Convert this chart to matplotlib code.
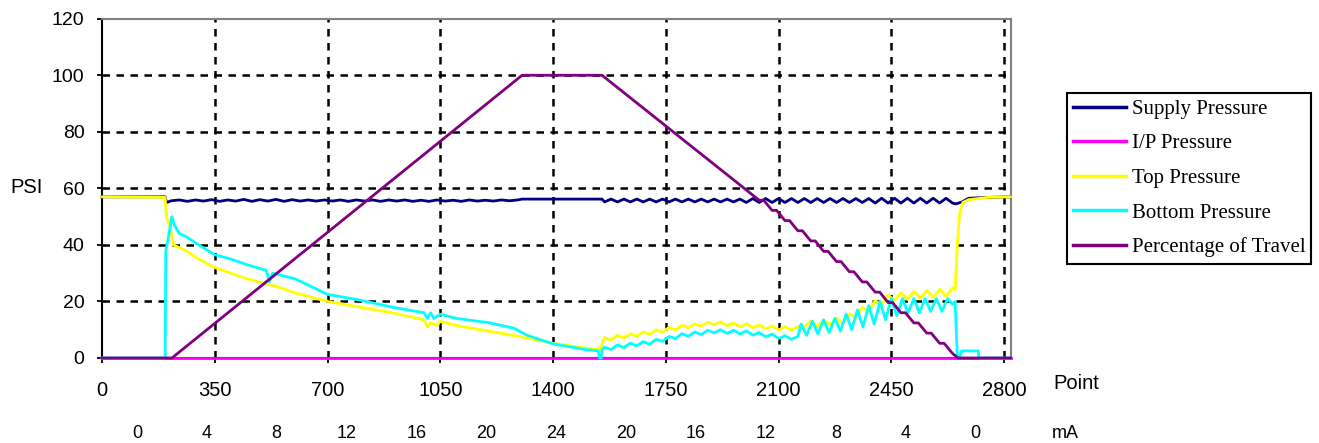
import numpy as np
import matplotlib
matplotlib.use('Agg')
import matplotlib.pyplot as plt
from matplotlib.font_manager import FontProperties

plt.rcParams['font.family'] = 'Liberation Sans'
plt.rcParams['font.size'] = 14

# ---- data ----
point_ticks = [0, 350, 700, 1050, 1400, 1750, 2100, 2450, 2800]
psi_ticks = [0, 20, 40, 60, 80, 100, 120]
ma_labels = ['0', '4', '8', '12', '16', '20', '24', '20', '16', '12', '8', '4', '0']

supply_x = [0, 196, 200, 215, 240, 265, 290, 315, 340, 365, 390, 415, 440, 465, 490,
            515, 540, 565, 590, 615, 640, 665, 690, 715, 740, 765, 790, 815, 840, 865,
            890, 915, 940, 965, 990, 1015, 1040, 1065, 1090, 1115, 1140, 1165, 1190,
            1215, 1240, 1265, 1290, 1304, 1552,
            1560, 1580, 1600, 1620, 1640, 1660, 1680, 1700, 1720, 1740, 1760, 1780,
            1800, 1820, 1840, 1860, 1880, 1900, 1920, 1940, 1960, 1980, 2000, 2020,
            2040, 2060, 2080, 2100, 2120, 2140, 2160, 2180, 2200, 2220, 2240, 2260,
            2280, 2300, 2320, 2340, 2360, 2380, 2400, 2420, 2440, 2460, 2480, 2500,
            2520, 2540, 2560, 2580, 2600, 2620, 2640, 2650, 2670, 2690, 2750, 2820]
supply_y = [57, 57, 55.0, 55.6, 55.9, 55.4, 55.9, 55.5, 56.0, 55.4, 55.9, 55.5, 56.1, 55.4,
            56.0, 55.5, 56.1, 55.4, 56.0, 55.5, 55.9, 55.5, 55.9, 55.5, 55.9, 55.4, 55.9,
            55.5, 55.9, 55.4, 55.9, 55.5, 55.9, 55.4, 55.8, 55.4, 55.9, 55.5, 55.8, 55.4,
            55.9, 55.5, 55.8, 55.5, 55.9, 55.6, 55.9, 56.2, 56.2,
            55.2, 56.2, 55.2, 56.2, 55.2, 56.2, 55.2, 56.2, 55.2, 56.2, 55.2, 56.2,
            55.2, 56.2, 55.2, 56.2, 55.2, 56.2, 55.2, 56.2, 55.2, 56.2, 55.0, 56.4,
            55.0, 56.4, 55.0, 56.4, 55.0, 56.4, 55.0, 56.4, 55.0, 56.4, 55.0, 56.4,
            55.0, 56.4, 55.0, 56.4, 55.0, 56.4, 54.8, 56.5, 54.8, 56.5, 54.8, 56.5,
            54.8, 56.5, 54.8, 56.5, 54.8, 56.5, 54.8, 54.5, 55.2, 56.5, 56.8, 57]

ip_x = [0, 2820]
ip_y = [0, 0]

top_x = [0, 196, 200, 210, 222, 260, 300, 350, 400, 450, 500, 550, 600, 700, 800, 900,
         1000, 1010, 1020, 1040, 1050, 1100, 1200, 1300, 1400, 1500, 1548, 1552,
         1560, 1580, 1600, 1620, 1640, 1660, 1680, 1700, 1720, 1740, 1760, 1780,
         1800, 1820, 1840, 1860, 1880, 1900, 1920, 1940, 1960, 1980, 2000, 2020,
         2040, 2060, 2080, 2100, 2120, 2140, 2160, 2180, 2200, 2220, 2240, 2260,
         2280, 2300, 2320, 2340, 2360, 2380, 2400, 2420, 2440, 2460, 2480, 2500,
         2520, 2540, 2560, 2580, 2600, 2620, 2640, 2648, 2655, 2662, 2672, 2690,
         2750, 2820]
top_y = [57, 56.8, 50, 47, 40, 38, 35, 32, 30, 28, 26.5, 25, 23, 20, 18, 16,
         13.5, 11, 12.5, 11.5, 13, 11.5, 9.5, 7.5, 5.2, 3.5, 3, 5,
         7.2, 6.4, 8.0, 7.1, 8.6, 7.7, 9.2, 8.4, 10.0, 9.2, 10.8, 10.0,
         11.6, 10.7, 12.1, 11.2, 12.7, 11.7, 12.8, 11.4, 12.4, 11.0, 12.1, 10.7,
         11.7, 10.3, 11.3, 9.9, 11.1, 9.9, 11.1, 11.0, 13.1, 11.2, 13.4, 11.7,
         14.1, 12.3, 15.7, 14.2, 17.9, 16.5, 20.3, 18.7, 22.3, 20.3, 23.1, 20.7,
         23.5, 21.1, 23.9, 21.5, 24.3, 21.9, 24.8, 24, 40, 51, 55, 56,
         56.8, 57]

bottom_x = [0, 196, 198, 205, 217, 225, 240, 260, 300, 350, 400, 450, 480, 510, 520,
            530, 600, 700, 800, 900, 1000, 1010, 1020, 1030, 1050, 1100, 1200, 1280,
            1320, 1360, 1400, 1450, 1500, 1540, 1545, 1550, 1552,
            1560, 1580, 1600, 1620, 1640, 1660, 1680, 1700, 1720, 1740, 1760, 1780,
            1800, 1820, 1840, 1860, 1880, 1900, 1920, 1940, 1960, 1980, 2000, 2020,
            2040, 2060, 2080, 2100, 2120, 2140, 2160,
            2170, 2187, 2205, 2222, 2240, 2257, 2275, 2292, 2310, 2327, 2345, 2362,
            2380, 2397, 2415, 2432, 2450, 2467, 2485, 2502, 2520, 2537, 2555, 2572,
            2590, 2607, 2625, 2640, 2648, 2655, 2665, 2668, 2720, 2722, 2820]
bottom_y = [0, 0, 38, 42, 50, 47, 44, 43, 40, 36.5, 35, 33, 32, 31, 27,
            30, 28, 22.5, 20.5, 18, 16, 14, 16, 14, 15.5, 14, 12.5, 10.5,
            8, 6.5, 5, 4, 3, 2.5, 0, 0, 3,
            3.8, 3.0, 4.6, 3.7, 5.2, 4.3, 5.8, 4.9, 6.6, 5.9, 7.6, 6.9,
            8.6, 7.7, 9.2, 8.3, 9.8, 8.9, 10.0, 8.7, 9.8, 8.5, 9.6, 8.1,
            9.0, 7.5, 8.4, 6.9, 7.9, 6.6, 7.6,
            12, 8, 13, 8.5, 13.5, 9, 14, 9.5, 15.5, 10, 17, 11,
            18.5, 12, 20, 13.5, 21, 15, 21, 16, 21, 16, 21, 16.5,
            21, 16.5, 21, 19, 20, 0.5, 1, 2.5, 2.5, 0, 0]

travel_x = [0, 217, 1304, 1552, 2040, 2054, 2080, 2094, 2120, 2134, 2160, 2174, 2200,
            2214, 2240, 2254, 2280, 2294, 2320, 2334, 2360, 2374, 2400, 2414, 2440,
            2454, 2480, 2494, 2520, 2534, 2560, 2574, 2600, 2614, 2640, 2657, 2820]
travel_y = [0, 0, 100, 100, 55.8, 55.8, 52.2, 52.2, 48.6, 48.6, 45.0, 45.0, 41.4,
            41.4, 37.7, 37.7, 34.1, 34.1, 30.5, 30.5, 26.9, 26.9, 23.3, 23.3, 19.6,
            19.6, 16.0, 16.0, 12.4, 12.4, 8.8, 8.8, 5.2, 5.2, 1.6, 0, 0]

series = [
    ('Supply Pressure', supply_x, supply_y, '#000080'),
    ('I/P Pressure', ip_x, ip_y, '#FF00FF'),
    ('Top Pressure', top_x, top_y, '#FFFF00'),
    ('Bottom Pressure', bottom_x, bottom_y, '#00FFFF'),
    ('Percentage of Travel', travel_x, travel_y, '#800080'),
]

W, H = 1319, 443
fig = plt.figure(figsize=(W / 100, H / 100), dpi=100)
ax = fig.add_axes([102 / W, 1 - 358 / H, (1010.5 - 102) / W, (358 - 18.7) / H])

# dotted grid (drawn by hand so the top edge stays a plain grey line)
for v in point_ticks[1:]:
    ax.axvline(v, color='black', lw=1.8, ls=(0, (3, 2.6)), zorder=1)
for v in psi_ticks[1:-1]:
    ax.axhline(v, color='black', lw=1.8, ls=(0, (3, 2.6)), zorder=1)

handles = []
for name, xs, ys, col in series:
    h, = ax.plot(xs, ys, color=col, lw=2, label=name, clip_on=False, zorder=3)
    handles.append(h)

ax.set_xlim(0, 2820)
ax.set_ylim(0, 120)
ax.set_xticks(point_ticks)
ax.set_yticks(psi_ticks)
ax.tick_params(axis='both', direction='out', length=3.6, width=1.3, color='black')
ax.tick_params(axis='x', pad=13, labelsize=14.5)
ax.tick_params(axis='y', pad=9, labelsize=14)
for s in ['top', 'right']:
    ax.spines[s].set_color('#808080')
    ax.spines[s].set_linewidth(1.5)
for s in ['left', 'bottom']:
    ax.spines[s].set_color('black')
    ax.spines[s].set_linewidth(1.5)

# second row of labels: mA
ax2 = ax.twiny()
ax2.set_xlim(0, 13)
ax2.set_xticks(np.arange(13) + 0.5)
ax2.set_xticklabels(ma_labels, fontsize=13)
ax2.xaxis.tick_bottom()
ax2.tick_params(axis='x', length=0, pad=48)
for s in ax2.spines.values():
    s.set_visible(False)

fig.text(27 / W, 1 - 187.5 / H, 'PSI', ha='center', va='center', fontsize=14.5)
fig.text(1076 / W, 1 - 383.5 / H, 'Point', ha='center', va='center', fontsize=14.5)
fig.text(1065 / W, 1 - 434 / H, 'mA', ha='center', va='center', fontsize=13)

leg = ax.legend(handles=handles, loc='upper left',
                bbox_to_anchor=(1067 / W, 1 - 93 / H), bbox_transform=fig.transFigure,
                prop=FontProperties(family='Liberation Serif', size=15),
                fancybox=False, edgecolor='black', framealpha=1, borderaxespad=0,
                handlelength=2.55, handletextpad=0.25, labelspacing=0.72, borderpad=0.3)
leg.get_frame().set_linewidth(1.5)
for l in leg.get_lines():
    l.set_linewidth(2.5)

fig.savefig('out.png', dpi=100)
